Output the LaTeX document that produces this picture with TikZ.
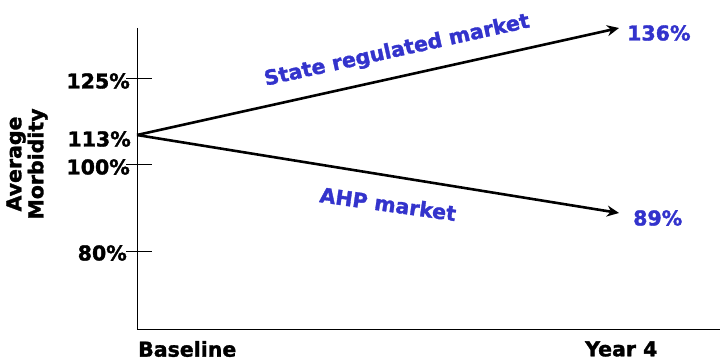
\documentclass[tikz,border=0pt]{standalone}
\usepackage{fontspec}
\setmainfont{DejaVu Sans}[BoldFeatures={FakeBold=1.5}]
\usetikzlibrary{arrows.meta}
\definecolor{lblue}{HTML}{3333CC}
\begin{document}
\begin{tikzpicture}[x=1pt,y=-1pt,
  axis/.style={draw=black,line width=0.9pt},
  tick/.style={draw=black,line width=0.9pt},
  lbl/.style={font=\bfseries\fontsize{20.5}{22}\selectfont,inner sep=0pt},
  blbl/.style={lbl,text=lblue},
  trend/.style={draw=black,line width=2.6pt,-{Stealth[length=12pt,width=11pt]}}]
\useasboundingbox (0,0) rectangle (720,358);
% axes
\coordinate (top) at (137,28);
\coordinate (orig) at (137,329);
\coordinate (xend) at (720,329);
\draw[axis] (top) -- (orig) -- (xend);
% ticks
\coordinate (t125a) at (126,78); \coordinate (t125b) at (152,78);
\coordinate (t100a) at (126,164); \coordinate (t100b) at (152,164);
\coordinate (t80a) at (126,251); \coordinate (t80b) at (152,251);
\draw[tick] (t125a) -- (t125b);
\draw[tick] (t100a) -- (t100b);
\draw[tick] (t80a) -- (t80b);
% tick labels
\node[lbl,anchor=east] (l125) at (130,81) {125\%};
\node[lbl,anchor=east] (l113) at (131,139) {113\%};
\node[lbl,anchor=east] (l100) at (130,167) {100\%};
\node[lbl,anchor=east] (l80) at (127,253) {80\%};
% y axis title
\node[lbl,rotate=90,align=center] (ytitle) at (27,164) {Average\\Morbidity};
% x labels
\node[lbl,anchor=west] (base) at (138,349) {Baseline};
\node[lbl,anchor=west] (y4) at (585,349) {Year 4};
% trends
\coordinate (start) at (137,135);
\coordinate (up) at (619,28);
\coordinate (down) at (619,213);
\draw[trend] (start) -- (up);
\draw[trend] (start) -- (down);
\node[blbl,anchor=west] (v136) at (627,33) {136\%};
\node[blbl,anchor=west] (v89) at (633,218) {89\%};
\node[blbl,rotate=12.5] (state) at (397,51) {State regulated market};
\node[blbl,rotate=-8] (ahp) at (388,204) {AHP market};
\end{tikzpicture}
\end{document}
